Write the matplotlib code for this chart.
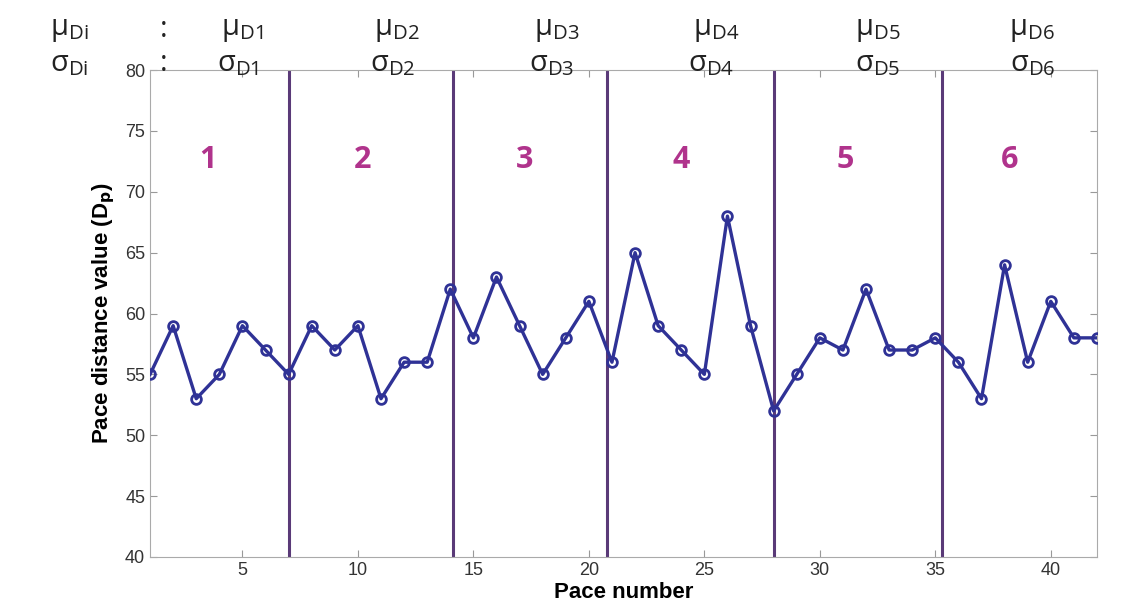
import numpy as np
import matplotlib.pyplot as plt

# pace distance values
pace = np.arange(1, 43)
dist = [55, 59, 53, 55, 59, 57, 55, 59, 57, 59, 53, 56, 56, 62, 58, 63, 59, 55, 58, 61, 56,
        65, 59, 57, 55, 68, 59, 52, 55, 58, 57, 62, 57, 57, 58, 56, 53, 64, 56, 61, 58, 58]

# segment borders and labels
borders = [7, 14.1, 20.8, 28, 35.3]
seg_labels = ["1", "2", "3", "4", "5", "6"]
seg_x = [3.5, 10.2, 17.2, 24.0, 31.1, 38.2]
mu_labels = [r"$\mathregular{\mu_{D%d}}$" % i for i in range(1, 7)]
sigma_labels = [r"$\mathregular{\sigma_{D%d}}$" % i for i in range(1, 7)]
mu_x = [5.0, 11.7, 18.6, 25.5, 32.5, 39.2]
sigma_x = [4.8, 11.5, 18.4, 25.3, 32.5, 39.2]

fig = plt.figure(figsize=(11.35, 6.11), dpi=100)
ax = fig.add_axes([0.1322, 0.0884, 0.8343, 0.797])

for b in borders:
    ax.axvline(b, color="#5a3a78", lw=2.2, zorder=1)

ax.plot(pace, dist, "-o", color="#2f3296", lw=2.4, ms=7, mfc="none", mew=2, zorder=3)

for x, s in zip(seg_x, seg_labels):
    ax.text(x, 72.6, s, color="#b0338c", fontsize=22, fontweight="bold",
            ha="center", va="center", family="Open Sans")

ax.set_xlim(1, 42)
ax.set_ylim(40, 80)
ax.set_xticks([5, 10, 15, 20, 25, 30, 35, 40])
ax.set_yticks(np.arange(40, 81, 5))
ax.tick_params(direction="in", top=True, right=True, length=5, color="#999999",
               labelsize=13, labelcolor="#333333")
for lab in ax.get_xticklabels() + ax.get_yticklabels():
    lab.set_family("Liberation Sans")
for sp in ax.spines.values():
    sp.set_color("#aaaaaa")

ax.set_xlabel("Pace number", fontsize=16, fontweight="bold", family="Liberation Sans", labelpad=2)
ax.set_ylabel(r"Pace distance value (D$_\mathbf{p}$)", fontsize=16, fontweight="bold",
              family="Liberation Sans", labelpad=6)

# header text above the axes
tkw = dict(fontsize=21, color="#222222", ha="center", va="center", family="Open Sans")
ax.text(-2.5, 83.3, r"$\mathregular{\mu_{Di}}$", **tkw)
ax.text(-2.5, 80.5, r"$\mathregular{\sigma_{Di}}$", **tkw)
ax.text(1.6, 83.3, ":", **tkw)
ax.text(1.6, 80.5, ":", **tkw)
for x, s in zip(mu_x, mu_labels):
    ax.text(x, 83.3, s, **tkw)
for x, s in zip(sigma_x, sigma_labels):
    ax.text(x, 80.5, s, **tkw)

fig.savefig("out.png", dpi=100)
